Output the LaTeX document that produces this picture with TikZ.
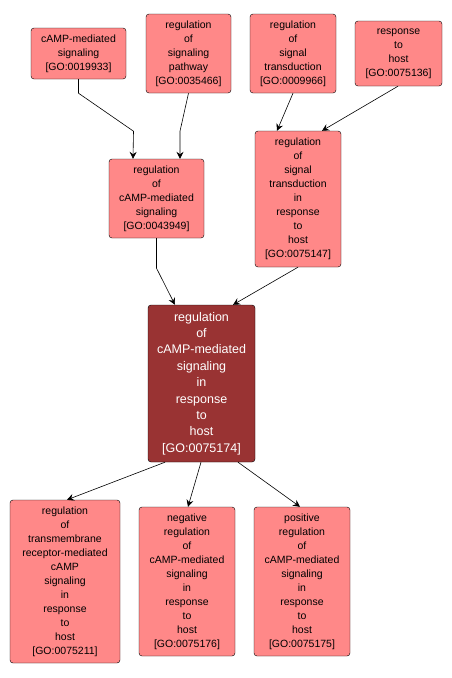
\documentclass[tikz,border=0pt]{standalone}
\usepackage{fontspec}
\setmainfont{Liberation Sans}
\usepackage{tikz}
\usetikzlibrary{arrows.meta,positioning}

\definecolor{golight}{RGB}{255,136,136}
\definecolor{godark}{RGB}{153,51,51}

\tikzset{
	goterm/.style={draw=black, fill=golight, rounded corners=3pt, inner sep=0pt, align=center, font=\fontsize{10.5}{14}\selectfont},
	gofocus/.style={goterm, fill=godark, text=white, font=\fontsize{12.5}{16.4}\selectfont},
	golink/.style={-{Stealth[length=7pt,width=7pt,inset=2.5pt]}, black, line width=0.6pt}
}

\begin{document}
\begin{tikzpicture}[x=1pt,y=-1pt]
	\useasboundingbox (0,0) rectangle (452,678);
	\node[goterm, minimum width=95pt, minimum height=51pt] (camp) at (78.5,53.5) {cAMP-mediated\\signaling\\{[GO:0019933]}};
	 \node[goterm, minimum width=85pt, minimum height=79pt] (sigpath) at (188.5,53.5) {regulation\\of\\signaling\\pathway\\{[GO:0035466]}};
	 \node[goterm, minimum width=86pt, minimum height=79pt] (sigtrans) at (293,53.5) {regulation\\of\\signal\\transduction\\{[GO:0009966]}};
	 \node[goterm, minimum width=87pt, minimum height=65pt] (host) at (398.5,53.5) {response\\to\\host\\{[GO:0075136]}};

	 \node[goterm, minimum width=95pt, minimum height=79pt] (regcamp) at (156.5,198.5) {regulation\\of\\cAMP-mediated\\signaling\\{[GO:0043949]}};
	 \node[goterm, minimum width=86pt, minimum height=136pt] (regtrans) at (298,199) {regulation\\of\\signal\\transduction\\in\\response\\to\\host\\{[GO:0075147]}};

	 \node[gofocus, minimum width=107pt, minimum height=157pt] (focus) at (201.5,383.5) {regulation\\of\\cAMP-mediated\\signaling\\in\\response\\to\\host\\{[GO:0075174]}};

	 \node[goterm, minimum width=110pt, minimum height=163pt] (transm) at (65,581.5) {regulation\\of\\transmembrane\\receptor-mediated\\cAMP\\signaling\\in\\response\\to\\host\\{[GO:0075211]}};
	 \node[goterm, minimum width=96pt, minimum height=149pt] (negreg) at (187,581.5) {negative\\regulation\\of\\cAMP-mediated\\signaling\\in\\response\\to\\host\\{[GO:0075176]}};
	 \node[goterm, minimum width=96pt, minimum height=149pt] (posreg) at (302,581.5) {positive\\regulation\\of\\cAMP-mediated\\signaling\\in\\response\\to\\host\\{[GO:0075175]}};

	 % upper links
	 \draw[golink] (camp.south) -- ++(0,14) -- ++(55,38) -- ([xshift=-23.5pt]regcamp.north);
	 \draw[golink] (sigpath.south) -- ++(-8.5,38) -- ([xshift=23.5pt]regcamp.north);
	 \draw[golink] (sigtrans.south) -- ([xshift=-21pt]regtrans.north);
	 \draw[golink] ([xshift=-0.5pt]host.south) -- ([xshift=24pt]regtrans.north);

	 % into the focus term
	 \draw[golink] (regcamp.south) -- ++(0,30) -- ([xshift=-26.5pt]focus.north);
	 \draw[golink] (regtrans.south) -- ([xshift=31.5pt]focus.north);

	 % children
	 \draw[golink] ([xshift=-36.5pt]focus.south) -- ([xshift=2pt]transm.north);
	 \draw[golink] ([xshift=-0.5pt]focus.south) -- ([xshift=1pt]negreg.north);
	 \draw[golink] ([xshift=36.5pt]focus.south) -- ([xshift=-2pt]posreg.north);
\end{tikzpicture}
\end{document}
